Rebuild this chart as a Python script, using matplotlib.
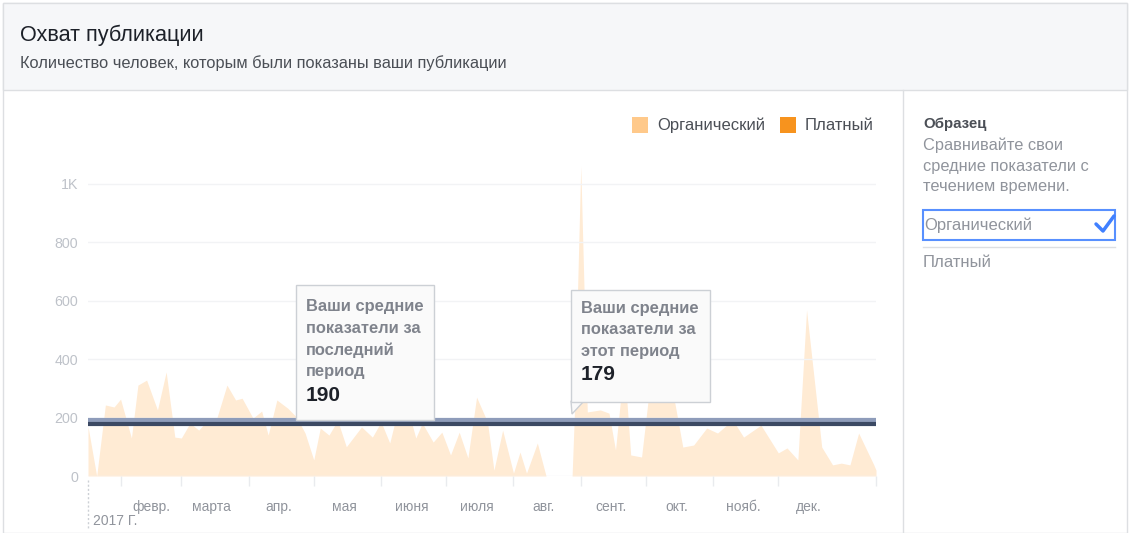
import matplotlib
matplotlib.use("Agg")
import matplotlib.pyplot as plt
import numpy as np
import pandas as pd
from matplotlib.patches import Rectangle, Polygon
from matplotlib.lines import Line2D

plt.rcParams["font.family"] = ["Liberation Sans", "DejaVu Sans"]

# --- data --------------------------------------------------------------
dates = [
    "2017-01-17", "2017-01-21", "2017-01-25", "2017-01-29", "2017-02-01",
    "2017-02-06", "2017-02-09", "2017-02-13", "2017-02-18", "2017-02-22",
    "2017-02-26", "2017-03-01", "2017-03-05", "2017-03-09", "2017-03-14",
    "2017-03-17", "2017-03-22", "2017-03-26", "2017-03-29", "2017-04-03",
    "2017-04-07", "2017-04-10", "2017-04-14", "2017-04-19", "2017-04-23",
    "2017-04-27", "2017-05-01", "2017-05-04", "2017-05-08", "2017-05-12",
    "2017-05-16", "2017-05-23", "2017-05-28", "2017-06-01", "2017-06-05",
    "2017-06-11", "2017-06-17", "2017-06-20", "2017-06-25", "2017-06-29",
    "2017-07-03", "2017-07-07", "2017-07-11", "2017-07-15", "2017-07-20",
    "2017-07-23", "2017-07-27", "2017-08-01", "2017-08-04", "2017-08-07",
    "2017-08-12", "2017-08-16", "2017-08-28", "2017-08-29", "2017-09-01",
    "2017-09-04", "2017-09-10", "2017-09-14", "2017-09-17", "2017-09-21",
    "2017-09-24", "2017-09-29", "2017-10-04", "2017-10-07", "2017-10-11",
    "2017-10-18", "2017-10-23", "2017-10-29", "2017-11-03", "2017-11-10",
    "2017-11-15", "2017-11-23", "2017-12-01", "2017-12-05", "2017-12-10",
    "2017-12-14", "2017-12-21", "2017-12-26", "2017-12-30", "2018-01-03",
    "2018-01-07", "2018-01-14", "2018-01-15",
]
organic = [
    170, 0, 243, 236, 263,
    130, 311, 328, 226, 356,
    133, 130, 181, 157, 198,
    190, 311, 260, 266, 198,
    222, 140, 260, 232, 202,
    147, 55, 164, 140, 190,
    100, 168, 133, 185, 113,
    294, 130, 181, 116, 150,
    72, 150, 62, 270, 185,
    20, 157, 10, 82, 10,
    113, 0, 0, 200, 1060,
    219, 226, 215, 89, 386,
    72, 65, 386, 260, 386,
    99, 106, 164, 147, 192,
    133, 174, 79, 96, 55,
    568, 99, 38, 44, 38,
    147, 38, 20,
]
avg_last = 190
avg_this = 179

month_labels = ["февр.", "марта", "апр.", "мая", "июня", "июля",
                "авг.", "сент.", "окт.", "нояб.", "дек."]
y_ticks = [0, 200, 400, 600, 800, 1000]
y_tick_labels = ["0", "200", "400", "600", "800", "1K"]
legend_labels = ["Органический", "Платный"]
legend_colors = ["#ffc98a", "#f7931e"]

W, H = 1130, 533


def fx(x):
    return x / W


def fy(y):
    return 1 - y / H


fig = plt.figure(figsize=(W / 100, H / 100), dpi=100)
fig.patch.set_facecolor("white")

# card frame and header
fig.add_artist(Rectangle((fx(3), fy(533)), fx(1124), 530 / H, transform=fig.transFigure,
                         facecolor="white", edgecolor="#dddfe2", lw=1, zorder=0))
fig.add_artist(Rectangle((fx(3), fy(90)), fx(1124), 87 / H, transform=fig.transFigure,
                         facecolor="#f6f7f9", edgecolor="#dddfe2", lw=1, zorder=0))
fig.text(fx(20), fy(35), "Охват публикации", fontsize=15.6, color="#1d2129", va="center")
fig.text(fx(20), fy(63), "Количество человек, которым были показаны ваши публикации",
         fontsize=11.8, color="#4b4f56", va="center")

# right panel
fig.add_artist(Line2D([fx(903), fx(903)], [fy(90), fy(533)], transform=fig.transFigure,
                      color="#dddfe2", lw=1))
fig.text(fx(923), fy(124), "Образец", fontsize=10.8, fontweight="bold", color="#4b4f56",
         va="center")
for i, line in enumerate(["Сравнивайте свои", "средние показатели с", "течением времени."]):
    fig.text(fx(923), fy(145 + i * 21), line, fontsize=11.8, color="#90949c", va="center")
fig.add_artist(Rectangle((fx(923), fy(240)), fx(192), 30 / H, transform=fig.transFigure,
                         facecolor="white", edgecolor="#5890ff", lw=1.5))
fig.text(fx(924), fy(225), "Органический", fontsize=12, color="#90949c", va="center")
fig.add_artist(Line2D([fx(1096), fx(1103), fx(1114)], [fy(224), fy(231), fy(216)],
                      transform=fig.transFigure, color="#4080ff", lw=2.5,
                      solid_capstyle="round", solid_joinstyle="round"))
fig.add_artist(Line2D([fx(923), fx(1115)], [fy(247), fy(247)], transform=fig.transFigure,
                      color="#dddfe2", lw=1))
fig.text(fx(923), fy(263), "Платный", fontsize=12, color="#90949c", va="center")

# legend
lx = [632, 780]
for x0, lab, col in zip(lx, legend_labels, legend_colors):
    fig.add_artist(Rectangle((fx(x0), fy(133)), fx(16), 16 / H, transform=fig.transFigure,
                             facecolor=col, edgecolor="none"))
    fig.text(fx(x0 + 25), fy(125), lab, fontsize=12, color="#4b4f56", va="center")

# plot area
ax = fig.add_axes([fx(88), fy(476), fx(876 - 88), (476 - 150) / H])
ax.set_facecolor("none")
x = pd.to_datetime(dates)
ax.fill_between(x, organic, 0, color="#ffebd4", lw=0, zorder=1)
ax.set_xlim(x[0], x[-1])
ax.set_ylim(0, 1115)

ax.axhline(avg_last, color="#8e9cba", lw=3, zorder=3)
ax.axhline(avg_this, color="#3b4963", lw=3, zorder=4)

for s in ax.spines.values():
    s.set_visible(False)
ax.set_yticks(y_ticks)
ax.set_yticklabels(y_tick_labels)
ax.tick_params(axis="y", length=0, pad=7, labelsize=10.3, labelcolor="#bec2c9")
ax.grid(axis="y", color="#f2f3f5", lw=1, zorder=0)

month_starts = pd.date_range("2017-02-01", "2017-12-01", freq="MS")
ax.set_xticks(list(month_starts) + [x[-1]])
ax.set_xticklabels([])
ax.tick_params(axis="x", which="major", length=7, width=1, color="#e9ebee", direction="out",
               pad=2)
mids = month_starts + pd.Timedelta(days=14)
ax.set_xticks(mids, minor=True)
ax.set_xticklabels(month_labels, minor=True)
ax.tick_params(axis="x", which="minor", length=0, pad=17, labelsize=10, labelcolor="#90949c")

fig.add_artist(Line2D([fx(88), fx(88)], [fy(480), fy(530)], transform=fig.transFigure,
                      color="#ccd0d5", lw=1, ls=(0, (1.5, 1.5))))
fig.text(fx(93), fy(521), "2017 Г.", fontsize=10, color="#90949c", va="center")


# tooltips
def tooltip(x0, y0, x1, y1, first, lines, value, pointer=False):
    fig.add_artist(Rectangle((fx(x0), fy(y1)), fx(x1 - x0), (y1 - y0) / H,
                             transform=fig.transFigure, facecolor="#fafafa",
                             edgecolor="#ccd0d5", lw=1, zorder=10))
    if pointer:
        fig.add_artist(Polygon([(fx(x0), fy(y1 - 1)), (fx(x0 + 13), fy(y1 - 1)),
                                (fx(x0 + 1), fy(y1 + 12))], closed=True,
                               transform=fig.transFigure, facecolor="#fafafa",
                               edgecolor="#ccd0d5", lw=1, zorder=9))
    for i, line in enumerate(lines):
        fig.text(fx(x0 + 10), fy(first + i * 21.6), line, fontsize=11.9, fontweight="bold",
                 color="#7f838c", va="center", zorder=11)
    fig.text(fx(x0 + 10), fy(first + len(lines) * 21.6 + 2), value, fontsize=15,
             fontweight="bold", color="#1d2129", va="center", zorder=11)


tooltip(296, 285, 434, 420, 307,
        ["Ваши средние", "показатели за", "последний", "период"], str(avg_last))
tooltip(571, 290, 710, 402, 308,
        ["Ваши средние", "показатели за", "этот период"], str(avg_this), pointer=True)

fig.savefig("out.png", dpi=100, facecolor="white")
